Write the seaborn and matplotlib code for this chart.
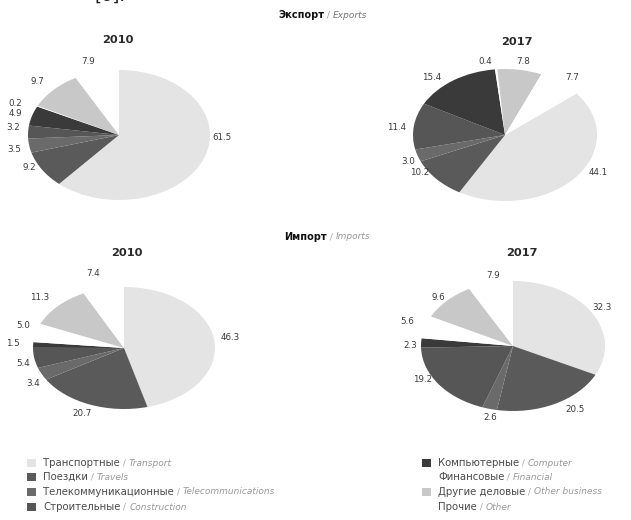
import matplotlib
matplotlib.use("Agg")
import matplotlib.pyplot as plt
from matplotlib.patches import Rectangle
import seaborn as sns

# Service categories (Russian / English)
categories_ru = ["Транспортные", "Поездки", "Телекоммуникационные", "Строительные",
                 "Компьютерные", "Финансовые", "Другие деловые", "Прочие"]
categories_en = ["Transport", "Travels", "Telecommunications", "Construction",
                 "Computer", "Financial", "Other business", "Other"]

# Shares, %
export_2010 = [61.5, 9.2, 3.5, 3.2, 4.9, 0.2, 9.7, 7.9]
export_2017 = [44.1, 10.2, 3.0, 11.4, 15.4, 0.4, 7.8, 7.7]
import_2010 = [46.3, 20.7, 3.4, 5.4, 1.5, 5.0, 11.3, 7.4]
import_2017 = [32.3, 20.5, 2.6, 19.2, 2.3, 5.6, 9.6, 7.9]
years = ["2010", "2017"]

sns.set_theme(style="white")
plt.rcParams["font.family"] = ["DejaVu Sans"]

palette = sns.color_palette(["#e4e4e4", "#5a5a5a", "#6a6a6a", "#565656",
                             "#3a3a3a", "#ffffff", "#c8c8c8", "#ffffff"])

W, H = 631, 520
fig = plt.figure(figsize=(W / 100, H / 100), dpi=100)
fig.patch.set_facecolor("white")


def fx(px):
    return px / W


def fy(py):
    return 1 - py / H


renderer = fig.canvas.get_renderer()


def text_run(x, y, parts):
    """Draw text pieces one after another on a common baseline."""
    for s, kw in parts:
        t = fig.text(fx(x), fy(y), s, va="center", ha="left", **kw)
        x += t.get_window_extent(renderer=renderer).width


# pie layout: centre (px), radii (px), start angle, label anchors (px)
pies = [
    (export_2010, (119, 135), (91, 65), 90,
     [(222, 138), (29, 167), (14, 150), (13, 127), (15, 113), (15, 103), (37, 82), (88, 62)]),
    (export_2017, (505, 135), (92, 66), 39,
     [(598, 173), (420, 173), (408, 162), (397, 128), (432, 77), (485, 62), (523, 62), (572, 77)]),
    (import_2010, (124, 348), (91, 61), 90,
     [(230, 338), (82, 413), (33, 383), (23, 363), (13, 343), (23, 326), (40, 298), (93, 273)]),
    (import_2017, (513, 346), (92, 65), 90,
     [(602, 308), (575, 410), (490, 418), (423, 380), (410, 345), (407, 322), (438, 297), (493, 275)]),
]

for vals, (cx, cy), (rx, ry), start, anchors in pies:
    ax = fig.add_axes([fx(cx - 1.5 * rx), fy(cy + 1.5 * ry), 3 * rx / W, 3 * ry / H])
    ax.pie(vals, colors=palette, startangle=start, counterclock=False,
           wedgeprops=dict(linewidth=0))
    ax.set_aspect("auto")
    ax.set_xlim(-1.5, 1.5)
    ax.set_ylim(-1.5, 1.5)
    ax.axis("off")
    for v, (px, py) in zip(vals, anchors):
        fig.text(fx(px), fy(py), f"{v:.1f}", ha="center", va="center",
                 fontsize=6.3, color="#3a3a3a")

# year headings
for (x, y), yr in zip([(118, 40), (517, 42)], years):
    fig.text(fx(x), fy(y), yr, ha="center", va="center", fontsize=8.2,
             fontweight="semibold", color="#2a2a2a")
for (x, y), yr in zip([(127, 253), (522, 253)], years):
    fig.text(fx(x), fy(y), yr, ha="center", va="center", fontsize=8.2,
             fontweight="semibold", color="#2a2a2a")

# section headings
text_run(278, 15, [("Экспорт", dict(fontsize=7, fontweight="bold", color="#111")),
                   (" / ", dict(fontsize=6.5, color="#999")),
                   ("Exports", dict(fontsize=6.5, style="italic", color="#777"))])
text_run(284, 237, [("Импорт", dict(fontsize=7, fontweight="bold", color="#111")),
                    (" / ", dict(fontsize=6.5, color="#aaa")),
                    ("Imports", dict(fontsize=6.5, style="italic", color="#999"))])

# fragment of the running text above the figure
fig.text(fx(95), fy(1), "[6].", ha="left", va="baseline", fontsize=13, color="#222")

# legend
rows = [463, 477, 492, 507]
for i, (ru, en) in enumerate(zip(categories_ru, categories_en)):
    col = i // 4
    y = rows[i % 4]
    mx = 27 if col == 0 else 422
    fig.patches.append(Rectangle((fx(mx), fy(y + 4)), 9 / W, 8 / H,
                                 transform=fig.transFigure, facecolor=palette[i],
                                 edgecolor="none"))
    text_run(mx + 16, y, [(ru, dict(fontsize=7.3, color="#4a4a4a")),
                          (" / ", dict(fontsize=6.5, color="#aaa")),
                          (en, dict(fontsize=6.5, style="italic", color="#999"))])

fig.savefig("out.png", dpi=100, facecolor="white")
